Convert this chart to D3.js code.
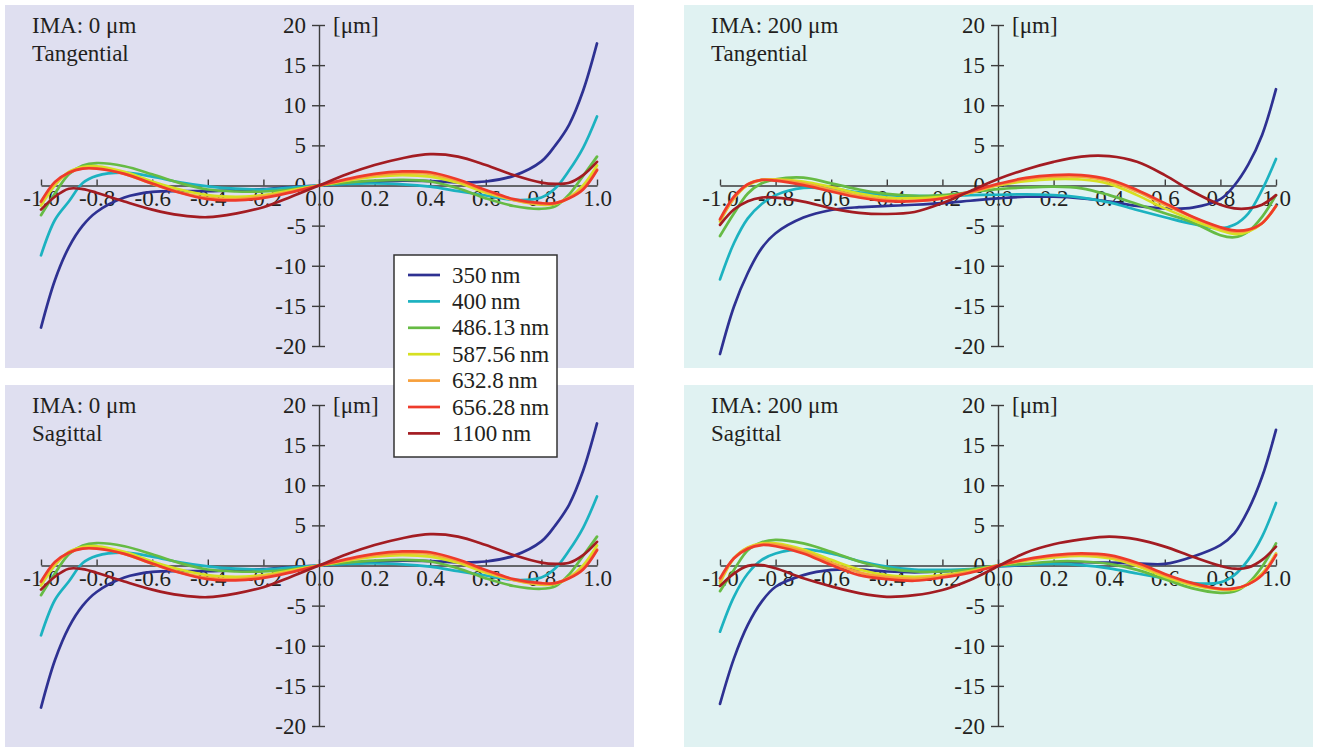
<!DOCTYPE html>
<html>
<head>
<meta charset="utf-8">
<script src="https://cdn.jsdelivr.net/npm/d3@7"></script>
<style>
  html, body { margin: 0; padding: 0; background: #ffffff; }
  svg { display: block; }
  text { font-family: "Liberation Serif", "Times New Roman", "DejaVu Serif", serif; fill: #231f20; }
</style>
</head>
<body>
<svg id="chart" width="1317" height="748"></svg>
<script>
// ---------- data ----------
const pupil = [-1,-0.95,-0.9,-0.85,-0.8,-0.7,-0.6,-0.5,-0.4,-0.3,-0.2,-0.1,0,0.1,0.2,0.3,0.4,0.5,0.6,0.7,0.8,0.85,0.9,0.95,1];
const xTicks = [-1,-0.8,-0.6,-0.4,-0.2,0,0.2,0.4,0.6,0.8,1];
const xTickLabels = ["-1.0","-0.8","-0.6","-0.4","-0.2","0.0","0.2","0.4","0.6","0.8","1.0"];
const yTicks = [20,15,10,5,0,-5,-10,-15,-20];
const yTickLabels = ["20","15","10","5","0","-5","-10","-15","-20"];
const wavelengths = ["350\u2009nm","400\u2009nm","486.13\u2009nm","587.56\u2009nm","632.8\u2009nm","656.28\u2009nm","1100\u2009nm"];
const colors = ["#2e3192","#1cb2c0","#66bb44","#d6e022","#f7a03c","#ee3b2b","#a31c22"];

// IMA 0 um, tangential (sagittal on-axis fan is the same in the reference)
const tl350  = [-17.7,-11.8,-7.7,-5.0,-3.3,-1.5,-0.8,-0.7,-0.7,-0.6,-0.45,-0.2,0,0.2,0.45,0.6,0.55,0.4,0.5,1.2,3.0,5.0,7.6,11.8,17.7];
const tl400  = [-8.7,-4.3,-2.0,0.3,1.2,1.6,1.1,0.4,-0.1,-0.4,-0.5,-0.25,0,0.2,0.25,0.15,-0.15,-0.7,-1.25,-1.8,-1.5,-0.35,1.9,4.7,8.6];
const tl486  = [-3.7,-1.0,1.4,2.5,2.8,2.4,1.4,0.3,-0.5,-0.75,-0.75,-0.5,0,0.35,0.6,0.7,0.5,-0.35,-1.6,-2.55,-2.9,-2.6,-1.1,1.2,3.6];
const tl587  = [-2.5,0.0,1.7,2.3,2.4,1.7,0.5,-0.5,-1.2,-1.4,-1.2,-0.6,0,0.6,1.1,1.3,1.1,0.35,-0.9,-1.8,-2.4,-2.3,-1.5,0.0,2.5];
const tl632  = [-2.1,0.3,1.6,2.15,2.15,1.45,0.2,-0.85,-1.55,-1.7,-1.35,-0.75,0,0.7,1.3,1.55,1.45,0.6,-0.7,-1.8,-2.3,-2.2,-1.5,-0.35,2.0];
const tl656  = [-2.0,0.45,1.6,2.1,2.1,1.45,0.25,-0.9,-1.7,-1.85,-1.55,-0.85,0,0.8,1.45,1.75,1.65,0.75,-0.55,-1.7,-2.2,-2.2,-1.6,-0.5,1.9];
const tl1100 = [-3.0,-1.4,-0.4,-0.45,-0.9,-2.0,-3.0,-3.7,-3.95,-3.5,-2.7,-1.4,0,1.4,2.55,3.4,3.9,3.6,2.55,1.3,0.35,0.2,0.35,1.3,2.95];

// IMA 200 um, tangential
const tr350  = [-21.0,-15.1,-10.9,-7.8,-5.95,-4.0,-3.05,-2.7,-2.55,-2.4,-2.2,-1.9,-1.6,-1.4,-1.4,-1.6,-2.0,-2.55,-2.85,-2.75,-1.7,0.0,2.6,6.3,12.0];
const tr400  = [-11.7,-7.2,-4.1,-2.3,-1.2,-0.3,-0.4,-0.85,-1.2,-1.3,-1.3,-1.2,-1.15,-1.1,-1.2,-1.5,-2.1,-3.05,-3.95,-4.8,-5.35,-4.9,-3.5,-0.55,3.3];
const tr486  = [-6.3,-3.5,-1.0,0.27,0.77,0.97,0.27,-0.5,-1.05,-1.3,-1.2,-0.85,-0.45,-0.25,-0.15,-0.35,-1.2,-2.3,-3.45,-4.6,-6.2,-6.45,-5.75,-3.9,-1.2];
const tr587  = [-4.5,-1.6,0.05,0.7,0.77,0.5,-0.2,-1.0,-1.5,-1.6,-1.4,-0.9,0.0,0.55,0.8,0.75,0.2,-1.2,-2.85,-4.3,-5.6,-6.05,-5.75,-4.7,-2.6];
const tr632  = [-4.3,-1.6,0.15,0.7,0.7,0.27,-0.55,-1.3,-1.8,-1.9,-1.6,-0.9,0.1,0.8,1.1,1.1,0.55,-0.75,-2.4,-3.95,-5.35,-5.75,-5.6,-4.7,-2.55];
const tr656  = [-4.2,-1.4,0.15,0.7,0.6,0.05,-0.75,-1.5,-1.95,-1.95,-1.6,-0.75,0.2,0.95,1.3,1.3,0.75,-0.55,-2.2,-3.9,-5.2,-5.6,-5.5,-4.7,-2.55];
const tr1100 = [-4.9,-3.0,-1.95,-1.5,-1.5,-2.0,-2.85,-3.4,-3.55,-3.3,-2.2,-0.7,0.8,2.0,2.95,3.6,3.65,2.95,1.3,-0.75,-2.4,-2.85,-2.85,-2.4,-1.2];

// IMA 200 um, sagittal
const br350  = [-17.25,-11.6,-7.4,-4.5,-2.65,-1.2,-0.55,-0.5,-0.75,-0.85,-0.75,-0.5,-0.1,0.05,0.27,0.4,0.35,0.27,0.2,1.1,2.55,4.0,6.9,11.05,16.9];
const br400  = [-8.25,-3.9,-1.0,0.7,1.5,2.0,1.5,0.55,-0.15,-0.5,-0.55,-0.45,-0.1,0.1,0.2,0.05,-0.35,-1.0,-1.6,-2.2,-2.1,-1.2,0.7,3.6,7.8];
const br486  = [-3.2,-0.55,1.9,2.9,3.2,2.75,1.7,0.5,-0.35,-0.75,-0.75,-0.5,0,0.2,0.5,0.5,0.2,-0.55,-1.7,-2.85,-3.4,-3.25,-2.2,-0.15,2.75];
const br587  = [-2.2,0.9,2.25,2.75,2.75,2.0,0.7,-0.5,-1.2,-1.4,-1.2,-0.7,0,0.6,1.0,1.2,0.9,-0.05,-1.4,-2.45,-3.0,-3.0,-2.3,-1.0,1.5];
const br632  = [-1.9,0.9,2.2,2.65,2.6,1.75,0.35,-0.85,-1.45,-1.65,-1.35,-0.8,0,0.7,1.15,1.35,1.1,0.15,-1.2,-2.3,-2.95,-2.9,-2.35,-1.1,1.4];
const br656  = [-1.6,0.9,2.1,2.55,2.4,1.5,0.05,-1.2,-1.7,-1.9,-1.5,-0.9,0,0.77,1.3,1.5,1.3,0.35,-1.05,-2.2,-2.9,-2.85,-2.35,-1.2,1.3];
const br1100 = [-2.55,-1.0,-0.05,0.05,-0.35,-1.6,-2.6,-3.45,-3.9,-3.7,-3.05,-1.8,-0.1,1.6,2.65,3.25,3.6,3.25,2.35,1.1,-0.05,-0.4,-0.25,0.7,2.35];

const panelTitles = [["IMA: 0 \u03bcm","Tangential"],["IMA: 200 \u03bcm","Tangential"],["IMA: 0 \u03bcm","Sagittal"],["IMA: 200 \u03bcm","Sagittal"]];
const panelSeries = [
  [tl350,tl400,tl486,tl587,tl632,tl656,tl1100],
  [tr350,tr400,tr486,tr587,tr632,tr656,tr1100],
  [tl350,tl400,tl486,tl587,tl632,tl656,tl1100],
  [br350,br400,br486,br587,br632,br656,br1100]
];
const unitLabel = "[\u03bcm]";

// ---------- drawing ----------
const svg = d3.select("#chart");
svg.append("rect").attr("width",1317).attr("height",748).attr("fill","#ffffff");

const layout = [
  {x:5,   y:5,   w:629, h:363, bg:"#dfdff0"},
  {x:684, y:5,   w:629, h:363, bg:"#e0f2f2"},
  {x:5,   y:385, w:629, h:362, bg:"#dfdff0"},
  {x:684, y:385, w:629, h:362, bg:"#e0f2f2"}
];
const FS = 23;
const axisColor = "#3c3c3c";

layout.forEach((L, pi) => {
  const g = svg.append("g");
  g.append("rect").attr("x",L.x).attr("y",L.y).attr("width",L.w).attr("height",L.h).attr("fill",L.bg);

  const x = d3.scaleLinear().domain([-1,1]).range([L.x+36, L.x+592]);
  const y = d3.scaleLinear().domain([-20,20]).range([L.y+341, L.y+20]);

  // titles
  g.append("text").attr("x",L.x+27).attr("y",L.y+28).attr("font-size",FS).text(panelTitles[pi][0]);
  g.append("text").attr("x",L.x+27).attr("y",L.y+56).attr("font-size",FS).text(panelTitles[pi][1]);

  // x axis
  const xa = d3.axisBottom(x).tickValues(xTicks).tickFormat((d,i)=>xTickLabels[i])
    .tickSizeInner(-6).tickSizeOuter(0).tickPadding(4);
  const gx = g.append("g").attr("transform",`translate(0,${y(0)})`).call(xa);
  gx.select(".domain").attr("stroke",axisColor).attr("stroke-width",1.4);
  gx.selectAll(".tick line").attr("stroke",axisColor).attr("stroke-width",1.4);
  gx.selectAll(".tick text").attr("font-size",FS).attr("font-family",null).attr("fill","#231f20");

  // y axis
  const ya = d3.axisLeft(y).tickValues(yTicks).tickFormat((d,i)=>yTickLabels[i])
    .tickSizeInner(7).tickSizeOuter(0).tickPadding(6);
  const gy = g.append("g").attr("transform",`translate(${x(0)},0)`).call(ya);
  gy.select(".domain").attr("stroke",axisColor).attr("stroke-width",1.4);
  gy.selectAll(".tick line").attr("stroke",axisColor).attr("stroke-width",1.4).attr("x2",-7).attr("x1",6);
  gy.selectAll(".tick text").attr("font-size",FS).attr("font-family",null).attr("fill","#231f20");
  g.append("text").attr("x",x(0)+14).attr("y",y(20)+8).attr("font-size",FS).text(unitLabel);

  // curves
  const line = d3.line().x((d,i)=>x(pupil[i])).y(d=>y(d)).curve(d3.curveCatmullRom.alpha(0.5));
  panelSeries[pi].forEach((s, si) => {
    g.append("path").attr("d", line(s)).attr("fill","none")
      .attr("stroke", colors[si]).attr("stroke-width",2.7)
      .attr("stroke-linejoin","round").attr("stroke-linecap","round");
  });
});

// legend
const lg = svg.append("g");
lg.append("rect").attr("x",394).attr("y",255).attr("width",163).attr("height",202)
  .attr("fill","#ffffff").attr("stroke","#333333").attr("stroke-width",1.5);
wavelengths.forEach((w, i) => {
  const yy = 275 + i*26.4;
  lg.append("line").attr("x1",408).attr("x2",440).attr("y1",yy).attr("y2",yy)
    .attr("stroke",colors[i]).attr("stroke-width",2.7);
  lg.append("text").attr("x",452).attr("y",yy+7.5).attr("font-size",FS).text(w);
});
</script>
</body>
</html>
